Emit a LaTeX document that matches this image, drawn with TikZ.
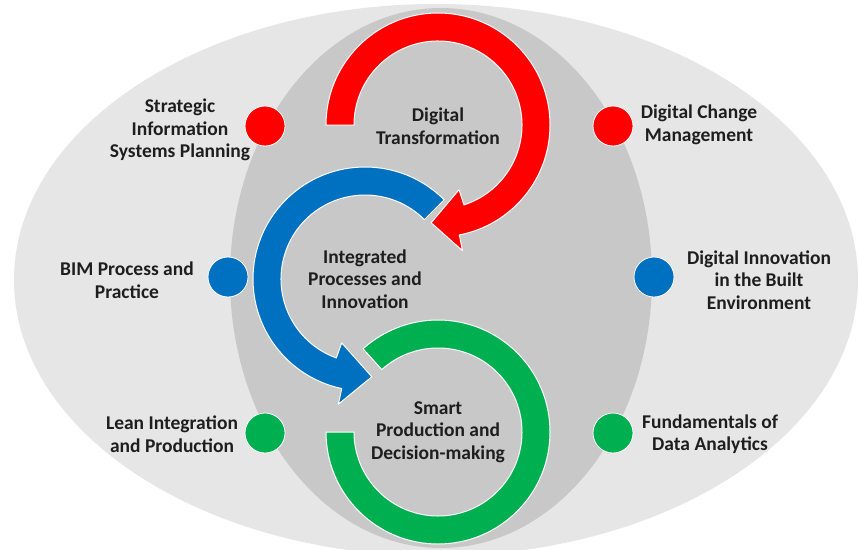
\documentclass[tikz,border=0pt]{standalone}
\usepackage{fontspec}
\setmainfont{Carlito}
\usepackage{xcolor}
\usepackage{tikz}
\usetikzlibrary{calc}
\definecolor{bg}{HTML}{FFFFFF}
\definecolor{outer}{HTML}{E6E6E6}
\definecolor{inner}{HTML}{C8C8C8}
\definecolor{txt}{HTML}{1E1E1E}
\definecolor{dtred}{HTML}{FF0000}
\definecolor{ipblue}{HTML}{0070C0}
\definecolor{spgreen}{HTML}{00B050}
\tikzset{
  halo/.style={draw=white, line width=1pt, line join=round},
  dot/.style={circle, minimum size=40pt, inner sep=0pt, draw=white, line width=0.8pt},
  lab/.style={text=txt, font=\bfseries\fontsize{19.5}{22.5}\selectfont, align=center},
}

\begin{document}
\begin{tikzpicture}[x=1pt, y=-1pt]
  \useasboundingbox (0,0) rectangle (859,549);
  \fill[bg] (0,0) rectangle (859,549);
  \begin{scope}
    \clip (0,0) rectangle (859,549);
    \fill[outer] (436,280) ellipse [x radius=422, y radius=276];
    \fill[inner] (441,278) ellipse [x radius=211, y radius=270];
  \end{scope}
  \coordinate (rc) at (438,125);
  \coordinate (bc) at (365,279);
  \coordinate (gc) at (438,432);
  % green ring
  \filldraw[halo, fill=spgreen] ($(gc)+(180:112)$) arc[start angle=180, end angle=-132, radius=112]
    -- ($(gc)+(-132:84)$) arc[start angle=-132, end angle=180, radius=84] -- cycle;
  % blue arrow
  \filldraw[halo, fill=ipblue] ($(bc)+(-45:112)$) arc[start angle=-45, end angle=-258, radius=112]
    -- ($(bc)+(-258:128)$) -- ($(bc)+(-274:98)$) -- ($(bc)+(-250:68)$) -- ($(bc)+(-250:84)$)
    arc[start angle=-250, end angle=-45, radius=84] -- cycle;
  % red arrow
  \filldraw[halo, fill=dtred] ($(rc)+(180:112)$) arc[start angle=180, end angle=439, radius=112]
    -- ($(rc)+(439:128)$) -- ($(rc)+(454:98)$) -- ($(rc)+(432:68)$) -- ($(rc)+(432:84)$)
    arc[start angle=432, end angle=180, radius=84] -- cycle;

  \node[lab] (dt) at (438,126) {Digital\\Transformation};
  \node[lab] (ipi) at (365,279) {Integrated\\Processes and\\Innovation};
  \node[lab] (spd) at (438,432) {Smart\\Production and\\Decision-making};

  \node[dot, fill=dtred] (sispdot) at (265,126) {};
  \node[dot, fill=dtred] (dcmdot) at (613,126) {};
  \node[dot, fill=ipblue] (bimdot) at (228,277) {};
  \node[dot, fill=ipblue] (dibedot) at (654,277) {};
  \node[dot, fill=spgreen] (lipdot) at (265,433) {};
  \node[dot, fill=spgreen] (fdadot) at (613,433) {};

  \node[lab] (sisp) at (180,130) {Strategic\\Information\\Systems Planning};
  \node[lab] (bim) at (127,280) {BIM Process and\\Practice};
  \node[lab] (lip) at (172,434) {Lean Integration\\and Production};
  \node[lab] (dcm) at (699,125) {Digital Change\\Management};
  \node[lab] (dibe) at (759,280) {Digital Innovation\\in the Built\\Environment};
  \node[lab] (fda) at (710,434) {Fundamentals of\\Data Analytics};
\end{tikzpicture}
\end{document}
